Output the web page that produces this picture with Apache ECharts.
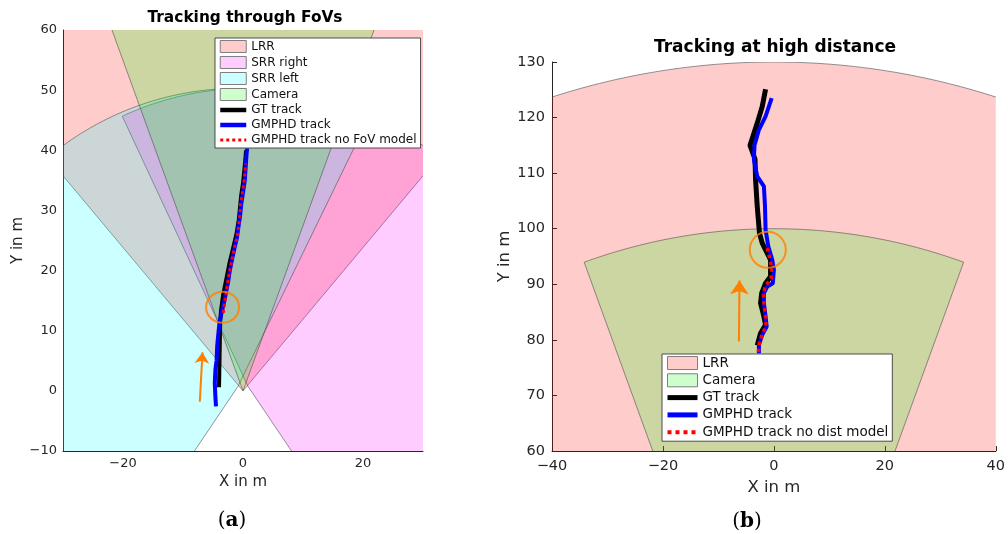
<!DOCTYPE html>
<html>
<head>
<meta charset="utf-8">
<script src="https://cdn.jsdelivr.net/npm/echarts@6/dist/echarts.min.js"></script>
<style>
html,body{margin:0;padding:0;background:#fff;}
#chart{width:1008px;height:534px;}
</style>
</head>
<body>
<div id="chart"></div>
<script>
// ---------- data ----------
// Sensor fields of view: apex [x,y] (m), angular span (deg from +x axis), range (m)
const fovLRR      = { apex: [0, 0],      startDeg: 50,  endDeg: 130, range: 130 };
const fovSrrRight = { apex: [0.8, 0.8],  startDeg: -56, endDeg: 115, range: 49.5 };
const fovSrrLeft  = { apex: [-0.8, 0.8], startDeg: 64,  endDeg: 236, range: 49.5 };
const fovCamera   = { apex: [0, 0],      startDeg: 70,  endDeg: 110, range: 100 };

// (a) Tracking through FoVs
const leftGtTrack = [[-4.0,0.6],[-3.95,3],[-3.9,6],[-3.85,9],[-3.8,11.5],[-3.65,13.5],[-3.3,16],[-2.8,18.5],[-2.3,21],[-1.7,23.5],[-1.1,26],[-0.7,28.5],[-0.5,30.5],[-0.3,32.5],[0.0,34.5],[0.2,36.5],[0.4,38.5],[0.5,40]];
const leftGmphdTrack = [[-4.5,-2.6],[-4.6,-1],[-4.7,1.3],[-4.6,3.5],[-4.4,5.1],[-4.3,7.5],[-4.1,9.6],[-3.9,11.5],[-3.5,13.3],[-3.1,15.0],[-2.8,16.5],[-2.5,18.0],[-2.2,20.0],[-1.8,22.0],[-1.4,23.8],[-1.0,25.5],[-0.8,27],[-0.5,29],[-0.3,31],[0.0,33],[0.3,35],[0.4,36.5],[0.5,38],[0.6,39.5],[0.7,40.3]];
const leftNoFovTrack = [[-3.3,13.0],[-3.0,15.0],[-2.7,17.0],[-2.3,19.5],[-1.9,21.5],[-1.5,23.5],[-1.0,25.5],[-0.7,27.5],[-0.5,29.5],[-0.4,31],[-0.1,33],[0.2,35],[0.35,36.5],[0.4,37.8]];
const leftCircle = [[-3.4, 13.9]];
const leftArrow = [[-7.2, -1.8], [-6.75, 6.4]];

// (b) Tracking at high distance
const rightGtTrack = [[-3.0,79.0],[-2.4,81.2],[-1.5,82.7],[-1.8,84.2],[-2.4,86.6],[-2.2,88.4],[-1.5,90.2],[-0.6,91.4],[-0.6,94.4],[-2.1,97.4],[-2.6,99.2],[-3.0,104],[-3.3,108.8],[-3.4,112.5],[-4.3,115],[-3.0,119],[-2.1,122],[-1.5,125.1]];
const rightGmphdTrack = [[-2.7,77.6],[-2.7,79.1],[-2.1,80.9],[-1.3,82.4],[-1.5,84.2],[-1.8,86.6],[-1.8,88.4],[-1.2,89.6],[-0.2,90.2],[0.0,92.6],[-0.3,94.4],[-1.0,96.8],[-1.5,99.8],[-1.6,104],[-1.8,107.6],[-3.0,109.4],[-3.6,112.4],[-3.5,115],[-2.7,117.8],[-1.5,120.2],[-0.4,123.5]];
const rightNoDistTrack = [[-2.8,77.8],[-2.6,79.5],[-2.1,81],[-1.4,82.4],[-1.5,84.2],[-1.8,86.6],[-1.9,88.4],[-1.5,89.8],[-0.5,91],[-0.4,92.5],[-0.6,94],[-1.2,96.5]];
const rightCircle = [[-1.1, 96.2]];
const rightArrow = [[-6.3, 79.7], [-6.2, 90.7]];

const leftXTickLabels = [-20, 0, 20];
const leftLegendNames = ['LRR', 'SRR right', 'SRR left', 'Camera', 'GT track', 'GMPHD track', 'GMPHD track no FoV model'];
const rightLegendNames = ['LRR', 'Camera', 'GT track', 'GMPHD track', 'GMPHD track no dist model'];

// ---------- styling ----------
const TXT = '#262626';
const ORANGE = '#ff8000';
const FONT = 'DejaVu Sans';
const fills = {
  'LRR': 'rgba(255,0,0,0.2)',
  'SRR right': 'rgba(255,0,255,0.2)',
  'SRR left': 'rgba(0,255,255,0.2)',
  'Camera': 'rgba(0,255,0,0.2)'
};
const legendFills = { 'LRR': '#ffcccc', 'SRR right': '#ffccff', 'SRR left': '#ccffff', 'Camera': '#ccffcc' };

function fmtMinus(v) { return v < 0 ? '\u2212' + Math.abs(v) : String(v); }

function fovSeries(name, spec, gi) {
  return {
    type: 'custom', name: name, xAxisIndex: gi, yAxisIndex: gi, z: 1, silent: true,
    itemStyle: { color: fills[name] },
    data: [[spec.apex[0], spec.apex[1]]],
    renderItem: function (params, api) {
      const pts = [api.coord(spec.apex)];
      const step = 0.5;
      for (let a = spec.startDeg; a < spec.endDeg; a += step) {
        const r = a * Math.PI / 180;
        pts.push(api.coord([spec.apex[0] + spec.range * Math.cos(r), spec.apex[1] + spec.range * Math.sin(r)]));
      }
      const re = spec.endDeg * Math.PI / 180;
      pts.push(api.coord([spec.apex[0] + spec.range * Math.cos(re), spec.apex[1] + spec.range * Math.sin(re)]));
      const cs = params.coordSys;
      return {
        type: 'polygon',
        shape: { points: pts },
        style: { fill: fills[name], stroke: '#4d4d4d', lineWidth: 0.6 },
        clipPath: { type: 'rect', shape: { x: cs.x, y: cs.y, width: cs.width, height: cs.height } }
      };
    }
  };
}

function trackSeries(name, data, gi, color, width, dash) {
  return {
    type: 'line', name: name, xAxisIndex: gi, yAxisIndex: gi, z: 3,
    data: data, symbol: 'none', showSymbol: false, silent: true,
    itemStyle: { color: color },
    lineStyle: { color: color, width: width, type: dash || 'solid', cap: 'butt', join: 'round' }
  };
}

function circleSeries(data, gi, size) {
  return {
    type: 'scatter', xAxisIndex: gi, yAxisIndex: gi, z: 5, silent: true,
    data: data, symbol: 'circle', symbolSize: size,
    itemStyle: { color: 'rgba(0,0,0,0)', borderColor: ORANGE, borderWidth: 2 }
  };
}

function arrowSeries(coords, gi, size) {
  return {
    type: 'lines', coordinateSystem: 'cartesian2d', xAxisIndex: gi, yAxisIndex: gi, z: 5, silent: true,
    data: [{ coords: coords }],
    symbol: ['none', 'arrow'], symbolSize: size,
    lineStyle: { color: ORANGE, width: 2, opacity: 1, curveness: 0 },
    itemStyle: { color: ORANGE }
  };
}

function legendData(names, lineW, dotW, dash) {
  return names.map(function (n) {
    if (legendFills[n]) {
      return { name: n, icon: 'rect', itemStyle: { color: legendFills[n], borderColor: '#7f7f7f', borderWidth: 1 } };
    }
    const dotted = n.indexOf('no ') >= 0;
    return {
      name: n,
      itemStyle: { color: 'rgba(0,0,0,0)', borderColor: 'rgba(0,0,0,0)', borderWidth: 0, opacity: 0 },
      lineStyle: dotted ? { width: dotW, type: dash, cap: 'butt' } : { width: lineW, cap: 'butt' }
    };
  });
}

const axisLineStyle = { show: true, onZero: false, lineStyle: { color: TXT, width: 1 } };
const labelStyleL = { color: TXT, fontSize: 13, fontFamily: FONT };
const labelStyleR = { color: TXT, fontSize: 14.5, fontFamily: FONT };

const option = {
  animation: false,
  backgroundColor: '#fff',
  grid: [
    { left: 63, top: 30, width: 360, height: 421 },
    { left: 552, top: 62, width: 446, height: 389 }
  ],
  xAxis: [
    {
      type: 'value', gridIndex: 0, min: -30, max: 30, interval: 10,
      axisLine: axisLineStyle, axisTick: { show: false }, splitLine: { show: false },
      axisLabel: Object.assign({ margin: 6, formatter: function (v) { return leftXTickLabels.indexOf(v) >= 0 ? fmtMinus(v) : ''; } }, labelStyleL),
      name: 'X in m', nameLocation: 'middle', nameGap: 24, nameTextStyle: { color: TXT, fontSize: 15, fontFamily: FONT }
    },
    {
      type: 'value', gridIndex: 1, min: -40, max: 40, interval: 20,
      axisLine: axisLineStyle, axisTick: { show: true, inside: true, length: 5, lineStyle: { color: TXT } }, splitLine: { show: false },
      axisLabel: Object.assign({ margin: 8, formatter: fmtMinus }, labelStyleR),
      name: 'X in m', nameLocation: 'middle', nameGap: 28, nameTextStyle: { color: TXT, fontSize: 16.5, fontFamily: FONT }
    }
  ],
  yAxis: [
    {
      type: 'value', gridIndex: 0, min: -10, max: 60, interval: 10,
      axisLine: axisLineStyle, axisTick: { show: false }, splitLine: { show: false },
      axisLabel: Object.assign({ margin: 6, formatter: fmtMinus }, labelStyleL),
      name: 'Y in m', nameLocation: 'middle', nameGap: 37, nameTextStyle: { color: TXT, fontSize: 15, fontFamily: FONT }
    },
    {
      type: 'value', gridIndex: 1, min: 60, max: 130, interval: 10,
      axisLine: axisLineStyle, axisTick: { show: true, inside: true, length: 5, lineStyle: { color: TXT } }, splitLine: { show: false },
      axisLabel: Object.assign({ margin: 7, formatter: fmtMinus }, labelStyleR),
      name: 'Y in m', nameLocation: 'middle', nameGap: 38, nameTextStyle: { color: TXT, fontSize: 16.5, fontFamily: FONT }
    }
  ],
  legend: [
    {
      orient: 'vertical', left: 215, top: 38, padding: [2, 4, 2, 3], itemGap: 3,
      itemWidth: 26, itemHeight: 12, selectedMode: false,
      backgroundColor: '#fff', borderColor: TXT, borderWidth: 0.8,
      textStyle: { fontSize: 12, lineHeight: 12, color: '#111', fontFamily: FONT },
      data: legendData(leftLegendNames, 4.5, 3, [3, 3])
    },
    {
      orient: 'vertical', left: 662, top: 354, padding: [2, 4, 2, 3], itemGap: 3.3,
      itemWidth: 30, itemHeight: 13, selectedMode: false,
      backgroundColor: '#fff', borderColor: TXT, borderWidth: 0.8,
      textStyle: { fontSize: 13.5, lineHeight: 13, color: '#111', fontFamily: FONT },
      data: legendData(rightLegendNames, 5, 4, [4, 4])
    }
  ],
  graphic: [
    { type: 'text', x: 245, y: 18, style: { text: 'Tracking through FoVs', font: 'bold 15.4px "DejaVu Sans"', fill: '#000', align: 'center', verticalAlign: 'middle' } },
    { type: 'text', x: 775, y: 48, style: { text: 'Tracking at high distance', font: 'bold 17px "DejaVu Sans"', fill: '#000', align: 'center', verticalAlign: 'middle' } },
    { type: 'text', x: 232, y: 521, style: { text: '{p|(}{b|a}{p|)}', align: 'center', verticalAlign: 'middle',
        rich: { p: { font: '20px "DejaVu Serif"', fill: '#000' }, b: { font: 'bold 20px "DejaVu Serif"', fill: '#000' } } } },
    { type: 'text', x: 747, y: 522, style: { text: '{p|(}{b|b}{p|)}', align: 'center', verticalAlign: 'middle',
        rich: { p: { font: '20px "DejaVu Serif"', fill: '#000' }, b: { font: 'bold 20px "DejaVu Serif"', fill: '#000' } } } }
  ],
  series: [
    fovSeries('LRR', fovLRR, 0),
    fovSeries('SRR right', fovSrrRight, 0),
    fovSeries('SRR left', fovSrrLeft, 0),
    fovSeries('Camera', fovCamera, 0),
    trackSeries('GT track', leftGtTrack, 0, '#000000', 4),
    trackSeries('GMPHD track', leftGmphdTrack, 0, '#0000ff', 4),
    trackSeries('GMPHD track no FoV model', leftNoFovTrack, 0, '#ff0000', 3, [3, 3]),
    circleSeries(leftCircle, 0, [33, 31]),
    arrowSeries(leftArrow, 0, 11),

    fovSeries('LRR', fovLRR, 1),
    fovSeries('Camera', fovCamera, 1),
    trackSeries('GT track', rightGtTrack, 1, '#000000', 5),
    trackSeries('GMPHD track', rightGmphdTrack, 1, '#0000ff', 4),
    trackSeries('GMPHD track no dist model', rightNoDistTrack, 1, '#ff0000', 3.5, [3.5, 3.5]),
    circleSeries(rightCircle, 1, [36, 36]),
    arrowSeries(rightArrow, 1, 14)
  ]
};

const chart = echarts.init(document.getElementById('chart'), null, { renderer: 'canvas' });
chart.setOption(option);
</script>
</body>
</html>
